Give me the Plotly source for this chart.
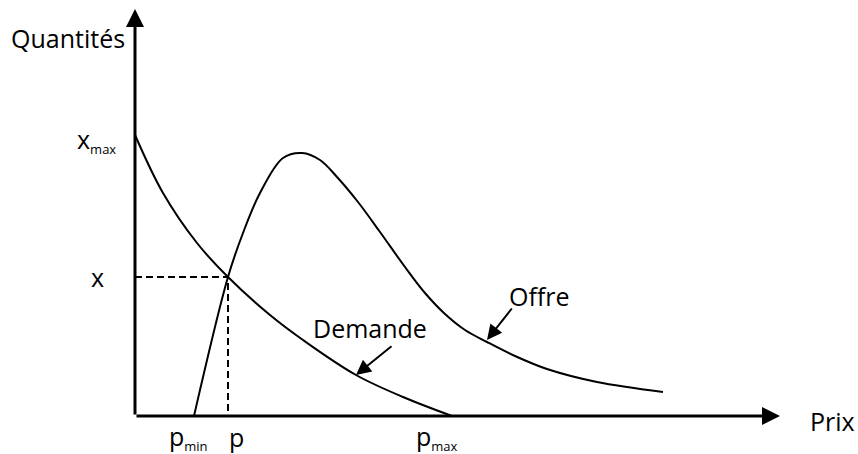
import plotly.graph_objects as go

# Demand curve (price, quantity)
demand_price = [0, 28, 62, 93, 135, 168, 221, 268, 317]
demand_qty = [281, 223, 173, 139, 101, 76, 41, 19, 0]

# Supply ("Offre") curve
supply_price = [59, 93, 108, 125, 148, 167, 185, 202, 223, 245, 270, 290, 310, 330, 352, 380, 412, 462, 528]
supply_qty = [0, 139, 183, 223, 258, 263, 256, 239, 214, 184, 149, 123, 102, 86, 74, 60, 47, 34, 24]

# Equilibrium
eq_price = 93
eq_qty = 139

# Axis extents
x_axis_end = 645
y_axis_end = 407

FONT = "Open Sans"
BIG = 25
SUB = 13

fig = go.Figure()

fig.add_trace(go.Scatter(x=demand_price, y=demand_qty, mode="lines",
                         line=dict(color="black", width=2, shape="spline", smoothing=1.0),
                         hoverinfo="skip", showlegend=False))
fig.add_trace(go.Scatter(x=supply_price, y=supply_qty, mode="lines",
                         line=dict(color="black", width=2, shape="spline", smoothing=1.0),
                         hoverinfo="skip", showlegend=False))
# dashed guides
fig.add_trace(go.Scatter(x=[0, eq_price, eq_price], y=[eq_qty, eq_qty, 0], mode="lines",
                         line=dict(color="black", width=2, dash="7px,4px"),
                         hoverinfo="skip", showlegend=False))

ann = []
# axes with arrows
ann.append(dict(x=x_axis_end, y=0, ax=0, ay=0, xref="x", yref="y", axref="x", ayref="y",
                text="", showarrow=True, arrowhead=2, arrowsize=1.2, arrowwidth=3,
                arrowcolor="black", standoff=0, startstandoff=0))
ann.append(dict(x=0, y=y_axis_end, ax=0, ay=0, xref="x", yref="y", axref="x", ayref="y",
                text="", showarrow=True, arrowhead=2, arrowsize=1.2, arrowwidth=3,
                arrowcolor="black", standoff=0, startstandoff=0))
# label arrows
ann.append(dict(x=221, y=41, ax=258, ay=71, xref="x", yref="y", axref="x", ayref="y",
                text="", showarrow=True, arrowhead=2, arrowsize=1.5, arrowwidth=2,
                arrowcolor="black", standoff=0))
ann.append(dict(x=352, y=76, ax=378, ay=109, xref="x", yref="y", axref="x", ayref="y",
                text="", showarrow=True, arrowhead=2, arrowsize=1.5, arrowwidth=2,
                arrowcolor="black", standoff=0))

def label(text, x, y, xanchor="center"):
    return dict(x=x, y=y, xref="x", yref="y", text=text, showarrow=False,
                xanchor=xanchor, yanchor="middle",
                font=dict(family=FONT, size=BIG, color="black"))

sub = lambda s: f"<sub><span style='font-size:{SUB}px'>{s}</span></sub>"

ann.append(label("Quantités", -67, 378))
ann.append(label("x" + sub("max"), -17, 276, xanchor="right"))
ann.append(label("x", -38, 139))
ann.append(label("p" + sub("min"), 53, -21))
ann.append(label("p", 101, -21))
ann.append(label("p" + sub("max"), 302, -21))
ann.append(label("Prix", 697, -5))
ann.append(label("Demande", 235, 88))
ann.append(label("Offre", 404, 120))

fig.update_layout(
    width=858, height=454,
    margin=dict(l=0, r=0, t=0, b=0),
    paper_bgcolor="white", plot_bgcolor="white",
    xaxis=dict(range=[-135, 723], visible=False, fixedrange=True),
    yaxis=dict(range=[-38, 416], visible=False, fixedrange=True),
    annotations=ann,
    showlegend=False,
)

fig.write_html("out.html", config={"displayModeBar": False},
               post_script="document.body.style.margin='0';document.body.style.overflow='hidden';")
